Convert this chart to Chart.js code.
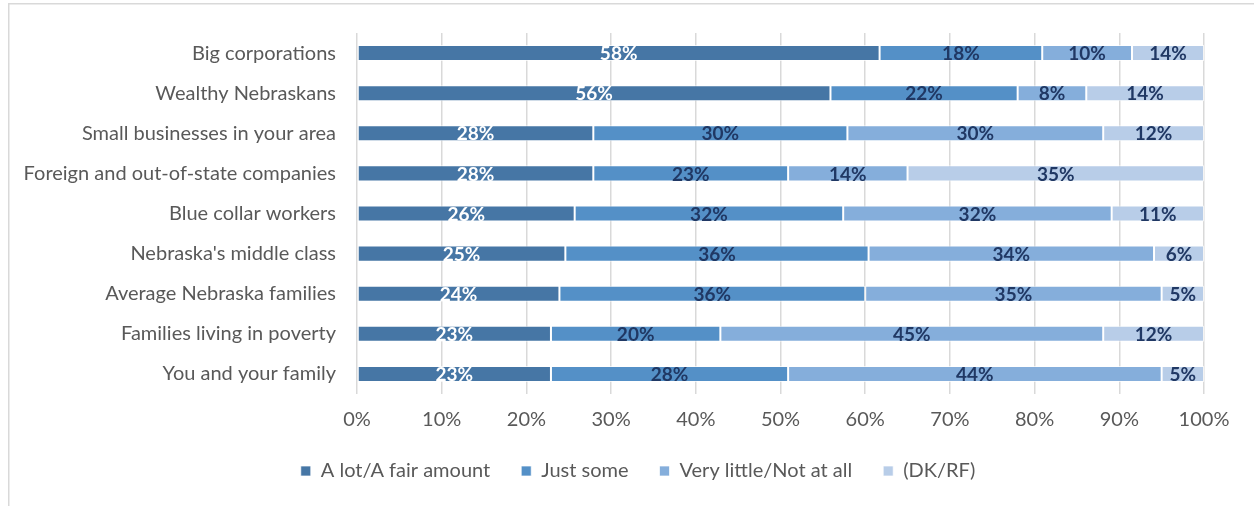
<!DOCTYPE html>
<html>
<head>
<meta charset="utf-8">
<script src="https://cdn.jsdelivr.net/npm/chart.js@4"></script>
<style>
    html, body { margin: 0; padding: 0; background: #fff; }
    #wrap { position: relative; width: 1254px; height: 506px; }
</style>
</head>
<body>
<div id="wrap"><canvas id="chart"></canvas></div>
<script>
const categories = [
    'Big corporations',
    'Wealthy Nebraskans',
    'Small businesses in your area',
    'Foreign and out-of-state companies',
    'Blue collar workers',
    "Nebraska's middle class",
    'Average Nebraska families',
    'Families living in poverty',
    'You and your family'
];

const seriesNames = ['A lot/A fair amount', 'Just some', 'Very little/Not at all', '(DK/RF)'];

// bar lengths as drawn in the picture
const aLot = [61.7, 55.9, 27.9, 27.9, 25.7, 24.6, 23.9, 22.9, 22.9];
const justSome = [19.2, 22.1, 30.0, 23.0, 31.7, 35.8, 36.1, 20.0, 28.0];
const veryLittle = [10.6, 8.1, 30.2, 14.1, 31.7, 33.7, 35.0, 45.2, 44.1];
const dkrf = [8.5, 13.9, 11.9, 35.0, 10.9, 5.9, 5.0, 11.9, 5.0];

// printed labels on the segments
const aLotLabels = ['58%', '56%', '28%', '28%', '26%', '25%', '24%', '23%', '23%'];
const justSomeLabels = ['18%', '22%', '30%', '23%', '32%', '36%', '36%', '20%', '28%'];
const veryLittleLabels = ['10%', '8%', '30%', '14%', '32%', '34%', '35%', '45%', '44%'];
const dkrfLabels = ['14%', '14%', '12%', '35%', '11%', '6%', '5%', '12%', '5%'];

const xTicks = [0, 10, 20, 30, 40, 50, 60, 70, 80, 90, 100];

const colors = ['#4676A5', '#5490C7', '#85AEDB', '#B8CDE8'];
const labelColors = ['#ffffff', '#203864', '#203864', '#203864'];
const FONT = 'Lato, Carlito, "Open Sans", sans-serif';

const allLabels = [aLotLabels, justSomeLabels, veryLittleLabels, dkrfLabels];

const segmentLabels = {
    id: 'segmentLabels',
    afterDatasetsDraw(chart) {
        const ctx = chart.ctx;
        ctx.save();
        ctx.font = 'bold 19px ' + FONT;
        ctx.textAlign = 'center';
        ctx.textBaseline = 'middle';
        chart.data.datasets.forEach((ds, i) => {
            const meta = chart.getDatasetMeta(i);
            meta.data.forEach((bar, j) => {
                const cx = (bar.x + bar.base) / 2;
                ctx.fillStyle = labelColors[i];
                ctx.fillText(allLabels[i][j], cx, bar.y + 1);
            });
        });
        ctx.restore();
    }
};

const frame = {
    id: 'frame',
    beforeDraw(chart) {
        const ctx = chart.ctx;
        ctx.save();
        ctx.strokeStyle = '#d9d9d9';
        ctx.lineWidth = 1.5;
        ctx.beginPath();
        ctx.moveTo(8.75, 506);
        ctx.lineTo(8.75, 3.75);
        ctx.lineTo(1254, 3.75);
        ctx.stroke();
        ctx.restore();
    }
};

// legend in the original sits a little right of the plot centre
const legendShift = {
    id: 'legendShift',
    afterLayout(chart) {
        chart.legend.left += 31;
        chart.legend.right += 31;
    }
};

const datasets = [aLot, justSome, veryLittle, dkrf].map((d, i) => ({
    label: seriesNames[i],
    data: d,
    backgroundColor: colors[i],
    borderColor: 'rgba(255,255,255,0.7)',
    borderWidth: 1,
    borderSkipped: false,
    barPercentage: 0.8,
    categoryPercentage: 0.5
}));

new Chart(document.getElementById('chart'), {
    type: 'bar',
    data: { labels: categories, datasets: datasets },
    options: {
        indexAxis: 'y',
        responsive: true,
        maintainAspectRatio: false,
        animation: false,
        layout: { padding: { top: 32, right: 50, left: 10, bottom: 15 } },
        scales: {
            x: {
                stacked: true,
                min: 0,
                max: 100,
                afterBuildTicks(scale) {
                    scale.ticks = xTicks.map(v => ({ value: v }));
                },
                afterFit(scale) { scale.height = 36; },
                grid: { color: '#d9d9d9', lineWidth: 1.5, drawTicks: false },
                border: { display: false },
                ticks: {
                    color: '#595959',
                    font: { family: FONT, size: 20 },
                    padding: 14,
                    callback: v => v + '%'
                }
            },
            y: {
                stacked: true,
                afterFit(scale) { scale.width = 347; },
                grid: { display: false, drawTicks: false },
                border: { display: false },
                ticks: {
                    color: '#595959',
                    font: { family: FONT, size: 20 },
                    padding: 21
                }
            }
        },
        plugins: {
            legend: {
                position: 'bottom',
                labels: {
                    color: '#595959',
                    font: { family: FONT, size: 20 },
                    boxWidth: 10,
                    boxHeight: 10,
                    padding: 31
                }
            },
            tooltip: { enabled: false }
        }
    },
    plugins: [segmentLabels, frame, legendShift]
});
</script>
</body>
</html>
